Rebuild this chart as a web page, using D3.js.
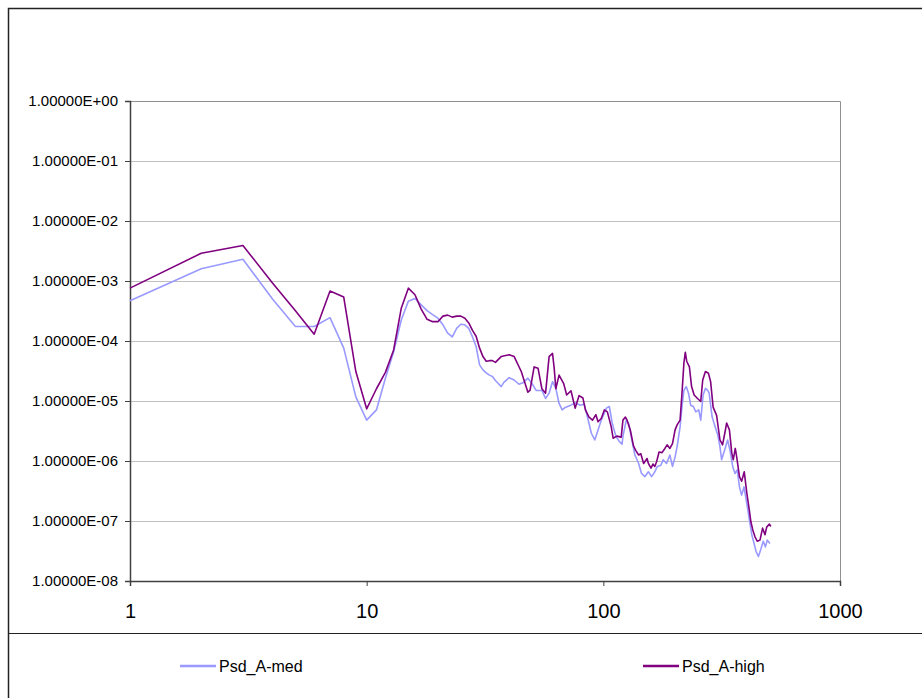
<!DOCTYPE html>
<html>
<head>
<meta charset="utf-8">
<script src="https://cdn.jsdelivr.net/npm/d3@7"></script>
<style>
  body { margin: 0; background: #fff; }
  svg { font-family: "Liberation Sans", Arial, sans-serif; }
</style>
</head>
<body>
<svg id="chart" width="922" height="698"></svg>
<script>
// values (frequency bin, PSD)
var freqHigh = [1,2,3,4,5,6,7,8,9,10,11,12,13,14,15,16,17,18,19,20,21,22,23,24,25,26,27,28,29,30,
  31,32,33,34,35,37,40,42,45,48,49,51,53,55,57,59,61,62,63,65,68,70,73,76,79,82,84,87,90,93,95,98,
  101,104,108,110,114,119,121,124,126,130,134,137,141,144,148,153,155,159,162,165,168,172,177,182,
  186,191,196,201,205,211,215,219,222,225,231,236,242,250,258,263,270,278,284,291,301,311,319,327,
  332,341,349,354,361,366,376,384,394,404,414,420,428,437,447,459,471,482,490,503,510];
var high = [7.6e-4,2.9e-3,3.9e-3,9.3e-4,3.2e-4,1.3e-4,6.8e-4,5.4e-4,3.1e-5,7.4e-6,1.6e-5,3.0e-5,7.1e-5,
  3.5e-4,7.6e-4,5.9e-4,3.4e-4,2.3e-4,2.1e-4,2.1e-4,2.6e-4,2.7e-4,2.5e-4,2.6e-4,2.6e-4,2.4e-4,2.0e-4,
  1.5e-4,1.2e-4,7.6e-5,5.5e-5,4.6e-5,4.7e-5,4.7e-5,4.4e-5,5.5e-5,5.9e-5,5.5e-5,3.1e-5,1.4e-5,1.5e-5,
  3.7e-5,3.5e-5,1.6e-5,1.35e-5,5.5e-5,6.2e-5,3.5e-5,1.6e-5,2.7e-5,1.95e-5,1.26e-5,1.48e-5,7.6e-6,
  1.23e-5,1.12e-5,7.1e-6,5.4e-6,4.8e-6,5.9e-6,4.5e-6,5.1e-6,7.1e-6,6.6e-6,3.7e-6,2.4e-6,2.6e-6,2.5e-6,
  4.8e-6,5.4e-6,4.8e-6,3.3e-6,1.8e-6,1.5e-6,1.26e-6,1.32e-6,9.1e-7,1.1e-6,9.1e-7,7.6e-7,8.9e-7,8.1e-7,
  9.8e-7,1.41e-6,1.38e-6,1.62e-6,1.86e-6,1.62e-6,1.95e-6,3.3e-6,4.0e-6,4.8e-6,1.35e-5,4.3e-5,6.5e-5,
  4.6e-5,3.7e-5,1.74e-5,1.26e-5,1.1e-5,9.8e-6,2.24e-5,3.1e-5,2.9e-5,2.1e-5,7.9e-6,5.75e-6,2.24e-6,
  1.86e-6,3.1e-6,4.3e-6,3.3e-6,1.35e-6,1.05e-6,1.62e-6,1.17e-6,5.5e-7,4.6e-7,6.6e-7,2.9e-7,1.5e-7,
  9.8e-8,7.1e-8,5.5e-8,4.6e-8,4.8e-8,7.6e-8,5.9e-8,7.9e-8,8.9e-8,8.1e-8];

var freqMed = [1,2,3,4,5,6,7,8,9,10,11,12,13,14,15,16,17,18,19,20,21,22,23,24,25,26,27,28,29,30,
  31,32,33,34,35,37,38,40,42,44,46,48,50,52,55,57,59,61,63,65,67,69,72,76,80,83,86,89,92,95,98,
  103,106,109,113,117,120,121,125,128,132,136,141,145,150,155,160,165,169,175,179,185,191,196,201,
  205,211,215,219,224,229,234,240,246,253,258,264,270,276,280,288,295,304,311,316,327,335,343,352,
  360,368,376,384,393,404,414,424,433,442,452,462,474,484,493,506];
var med = [4.7e-4,1.6e-3,2.3e-3,5.0e-4,1.74e-4,1.74e-4,2.45e-4,7.6e-5,1.17e-5,4.8e-6,7.1e-6,2.4e-5,
  6.6e-5,2.24e-4,4.6e-4,5.1e-4,4.0e-4,3.2e-4,2.75e-4,2.4e-4,1.86e-4,1.35e-4,1.17e-4,1.62e-4,1.9e-4,
  1.86e-4,1.62e-4,1.17e-4,8.1e-5,4.0e-5,3.3e-5,2.95e-5,2.7e-5,2.57e-5,2.2e-5,1.74e-5,2.04e-5,2.45e-5,
  2.24e-5,1.9e-5,2.04e-5,2.4e-5,1.95e-5,1.5e-5,1.5e-5,1.1e-5,1.35e-5,2.1e-5,1.62e-5,9.1e-6,7.1e-6,
  7.8e-6,8.3e-6,9.3e-6,8.5e-6,8.9e-6,5.1e-6,2.9e-6,2.24e-6,3.3e-6,4.8e-6,7.6e-6,8.1e-6,4.3e-6,2.57e-6,
  2.1e-6,1.9e-6,2.57e-6,4.8e-6,4.2e-6,2.24e-6,1.26e-6,9.1e-7,6.2e-7,5.5e-7,6.6e-7,5.5e-7,6.6e-7,8.1e-7,
  8.5e-7,1.05e-6,9.1e-7,1.26e-6,8.1e-7,1.17e-6,1.74e-6,3.7e-6,8.1e-6,1.5e-5,1.74e-5,1.35e-5,8.5e-6,
  8.1e-6,6.6e-6,7.1e-6,4.8e-6,1.26e-5,1.62e-5,1.5e-5,1.35e-5,5.5e-6,4.0e-6,2.8e-6,1.74e-6,1.05e-6,
  1.62e-6,2.24e-6,1.5e-6,8.1e-7,6.2e-7,7.1e-7,3.7e-7,2.7e-7,3.7e-7,1.95e-7,1.05e-7,5.9e-8,4.3e-8,
  3.1e-8,2.57e-8,3.3e-8,4.6e-8,3.7e-8,4.8e-8,4.2e-8];

var xTicks = [1, 10, 100, 1000];
var yTicks = [1, 1e-1, 1e-2, 1e-3, 1e-4, 1e-5, 1e-6, 1e-7, 1e-8];
var seriesNames = ["Psd_A-med", "Psd_A-high"];
var seriesColors = ["#9999ff", "#800080"];

var svg = d3.select("#chart");
// note: "top" is taken by window.top, so prefix these
var plotLeft = 130, plotRight = 840, plotTop = 101, plotBottom = 581;

var x = d3.scaleLog().domain([1, 1000]).range([plotLeft, plotRight]);
var y = d3.scaleLog().domain([1e-8, 1]).range([plotBottom, plotTop]);

function expLabel(d) {
  var e = Math.round(Math.log10(d));
  return "1.00000E" + (e < 0 ? "-" : "+") + String(Math.abs(e)).padStart(2, "0");
}

// outer chart frame and legend separator
svg.append("rect")
  .attr("x", 8.5).attr("y", 8.5)
  .attr("width", 1000).attr("height", 1000)
  .attr("fill", "none").attr("stroke", "#222").attr("stroke-width", 1.5);
svg.append("line")
  .attr("x1", 8).attr("x2", 922).attr("y1", 633.5).attr("y2", 633.5)
  .attr("stroke", "#222").attr("stroke-width", 1.2);

// horizontal grid
svg.append("g").selectAll("line")
  .data(yTicks.slice(1, -1))
  .enter().append("line")
  .attr("x1", plotLeft).attr("x2", plotRight)
  .attr("y1", d => Math.round(y(d)) + 0.5).attr("y2", d => Math.round(y(d)) + 0.5)
  .attr("stroke", "#c0c0c0");

// plot border top/right
svg.append("path")
  .attr("d", "M" + plotLeft + "," + (plotTop + 0.5) + "H" + (plotRight + 0.5) + "V" + plotBottom)
  .attr("fill", "none").attr("stroke", "#909090");

// axes
var yAxis = svg.append("g")
  .attr("transform", "translate(" + plotLeft + ",0)")
  .call(d3.axisLeft(y).tickValues(yTicks).tickFormat(expLabel).tickSize(5).tickPadding(7));
yAxis.select(".domain").attr("stroke", "#404040").attr("stroke-width", 1.5);
yAxis.selectAll(".tick line").attr("stroke", "#404040");
yAxis.selectAll("text").attr("font-size", 15).attr("fill", "#000")
  .attr("font-family", "Liberation Sans, Arial, sans-serif");

var xAxis = svg.append("g")
  .attr("transform", "translate(0," + plotBottom + ")")
  .call(d3.axisBottom(x).tickValues(xTicks).tickFormat(d3.format("d")).tickSize(5).tickPadding(18));
xAxis.select(".domain").attr("stroke", "#404040").attr("stroke-width", 1.5);
xAxis.selectAll(".tick line").attr("stroke", "#404040");
xAxis.selectAll("text").attr("font-size", 20).attr("fill", "#000")
  .attr("font-family", "Liberation Sans, Arial, sans-serif");

// series lines
var line = d3.line()
  .x(d => x(d[0]))
  .y(d => y(d[1]));

var seriesData = [
  d3.zip(freqMed, med),
  d3.zip(freqHigh, high)
];

svg.append("g").selectAll("path")
  .data(seriesData)
  .enter().append("path")
  .attr("d", line)
  .attr("fill", "none")
  .attr("stroke", (d, i) => seriesColors[i])
  .attr("stroke-width", 1.6)
  .attr("stroke-linejoin", "round");

// legend
var legendX = [180, 643];
var legend = svg.append("g").selectAll("g")
  .data(seriesNames)
  .enter().append("g")
  .attr("transform", (d, i) => "translate(" + legendX[i] + ",666)");
legend.append("line")
  .attr("x1", 0).attr("x2", 36)
  .attr("stroke", (d, i) => seriesColors[i]).attr("stroke-width", 2.5);
legend.append("text")
  .attr("x", 39).attr("y", 5.5)
  .attr("font-size", 16)
  .text(d => d);
</script>
</body>
</html>
